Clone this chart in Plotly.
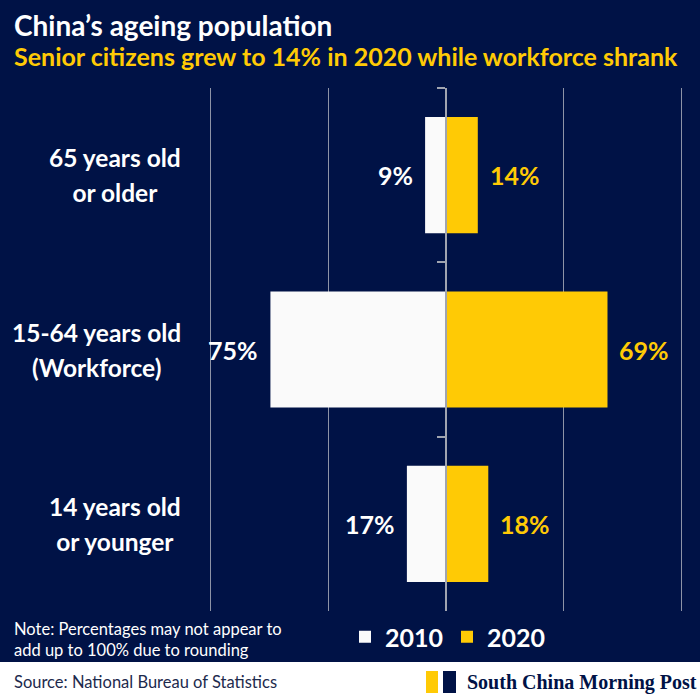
import plotly.graph_objects as go

# ── data ──────────────────────────────────────────────────────────────────────
groups = ["65+", "15-64", "0-14"]
group_labels = ["65 years old<br>or older", "15-64 years old<br>(Workforce)",
                "14 years old<br>or younger"]
share_2010 = [8.87, 74.53, 16.60]
share_2020 = [13.50, 68.55, 17.95]
grid_ticks = [-100, -50, 0, 50, 100]

NAVY = "#001246"
YELLOW = "#ffca05"
WHITE = "#fafafa"
FONT = "Lato, 'Noto Sans', sans-serif"

# plot area in pixels (left, top, width, height) - used to place free text
L, T, W, H = 201, 88, 490, 523


def xp(px):
    return (px - L) / W


def yp(py):
    return (T + H - py) / H


fig = go.Figure()
fig.add_trace(go.Bar(
    y=groups, x=[-v for v in share_2010], orientation="h", name="2010",
    marker=dict(color=WHITE, line=dict(width=0)), hoverinfo="skip",
))
fig.add_trace(go.Bar(
    y=groups, x=share_2020, orientation="h", name="2020",
    marker=dict(color=YELLOW, line=dict(width=0)), hoverinfo="skip",
))

annotations = []
# value labels
for g, v in zip(groups, share_2010):
    annotations.append(dict(x=-v, y=g, xref="x", yref="y", text=f"{v:.0f}%",
                            xanchor="right", xshift=-10, showarrow=False,
                            font=dict(family=FONT, size=25, color="white", weight="bold")))
for g, v in zip(groups, share_2020):
    annotations.append(dict(x=v, y=g, xref="x", yref="y", text=f"{v:.0f}%",
                            xanchor="left", xshift=10, showarrow=False,
                            font=dict(family=FONT, size=25, color=YELLOW, weight="bold")))
# category labels (block right-aligned, lines centred)
for g, lab in zip(groups, group_labels):
    annotations.append(dict(x=xp(183), y=g, xref="paper", yref="y",
                            text="<br>".join(f"<span style='font-size:24.5px'>{s}</span>"
                                             for s in lab.split("<br>")),
                            xanchor="right", align="center", showarrow=False,
                            font=dict(family=FONT, size=27, color="white", weight="bold")))
# titles and footer text
annotations += [
    dict(x=xp(12), y=yp(25), xref="paper", yref="paper", xanchor="left", yanchor="middle",
         text="China’s ageing population", showarrow=False,
         font=dict(family=FONT, size=28, color="white", weight="bold")),
    dict(x=xp(12), y=yp(56), xref="paper", yref="paper", xanchor="left", yanchor="middle",
         text="Senior citizens grew to 14% in 2020 while workforce shrank", showarrow=False,
         font=dict(family=FONT, size=25, color=YELLOW, weight="bold")),
    dict(x=xp(12), y=yp(639), xref="paper", yref="paper", xanchor="left", yanchor="middle",
         align="left", showarrow=False,
         text="Note: Percentages may not appear to<br>add up to 100% due to rounding",
         font=dict(family=FONT, size=16.5, color="white")),
    dict(x=xp(12), y=yp(682), xref="paper", yref="paper", xanchor="left", yanchor="middle",
         text="Source: National Bureau of Statistics", showarrow=False,
         font=dict(family=FONT, size=16.5, color="#1d2a4d")),
    dict(x=xp(465), y=yp(682), xref="paper", yref="paper", xanchor="left", yanchor="middle",
         text="South China Morning Post", showarrow=False,
         font=dict(family="'Liberation Serif', 'DejaVu Serif', serif", size=20,
                   color=NAVY, weight="bold")),
]

shapes = [
    # white footer band
    dict(type="rect", xref="paper", yref="paper", x0=xp(0), x1=xp(700),
         y0=yp(700), y1=yp(662), fillcolor="white", line_width=0, layer="below"),
    # logo blocks
    dict(type="rect", xref="paper", yref="paper", x0=xp(426), x1=xp(438),
         y0=yp(693), y1=yp(671), fillcolor=YELLOW, line_width=0),
    dict(type="rect", xref="paper", yref="paper", x0=xp(443), x1=xp(456),
         y0=yp(693), y1=yp(671), fillcolor=NAVY, line_width=0),
]

fig.update_layout(
    width=700, height=700,
    margin=dict(l=L, r=700 - L - W, t=T, b=700 - T - H, pad=0),
    paper_bgcolor=NAVY, plot_bgcolor=NAVY,
    barmode="relative", bargap=0.334,
    showlegend=True,
    legend=dict(orientation="h", x=xp(345), y=yp(637), xanchor="left", yanchor="middle",
                traceorder="normal", bgcolor="rgba(0,0,0,0)",
                font=dict(family=FONT, size=25, color="white", weight="bold"),
                entrywidth=57, entrywidthmode="pixels"),
    xaxis=dict(range=[-104, 104], tickvals=grid_ticks, showticklabels=False,
               showgrid=True, gridcolor="#8d93a6", gridwidth=1, zeroline=False,
               fixedrange=True),
    yaxis=dict(autorange="reversed", showticklabels=False, showgrid=False,
               anchor="free", position=0.5, showline=True, linecolor="#a0a4b0",
               linewidth=1.5, ticks="outside", tickson="boundaries", ticklen=8,
               tickcolor="#a0a4b0", tickwidth=1.5, layer="above traces",
               zeroline=False, fixedrange=True),
    annotations=annotations,
    shapes=shapes,
)

fig.write_html("out.html", config={"displayModeBar": False},
               post_script="document.body.style.margin = '0';")
